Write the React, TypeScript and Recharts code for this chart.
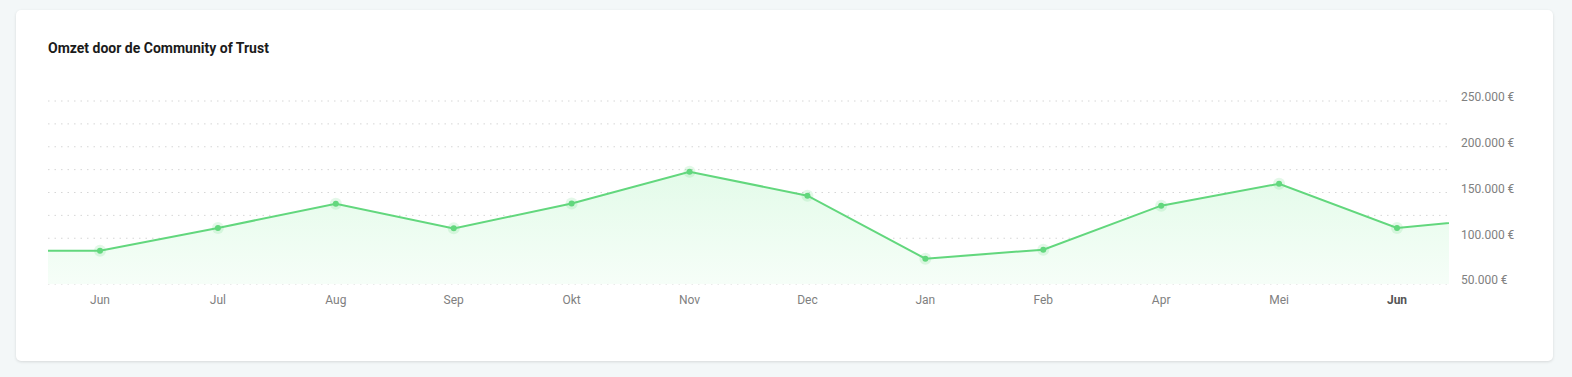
import React from "react";
import { ComposedChart, Area, XAxis, YAxis, CartesianGrid } from "recharts";

const MONTHS = ["Jun", "Jul", "Aug", "Sep", "Okt", "Nov", "Dec", "Jan", "Feb", "Apr", "Mei", "Jun"];
const REVENUE = [86400, 111200, 137800, 110800, 138000, 172700, 146500, 77700, 87500, 135600, 159600, 111200];
// values just outside the visible window (cut off at both edges)
const BEFORE = 86400;
const AFTER = 123600;
const Y_TICKS = [50000, 75000, 100000, 125000, 150000, 175000, 200000, 225000, 250000];

const GREEN = "#62d77d";

const data = [
  { i: -1, value: BEFORE },
  ...REVENUE.map((v, i) => ({ i, value: v })),
  { i: REVENUE.length, value: AFTER },
];

const formatEuro = (v: number) =>
  String(Math.round(v)).replace(/\B(?=(\d{3})+(?!\d))/g, ".") + " €";

function XTick({ x, y, payload }: any) {
  const last = payload.value === MONTHS.length - 1;
  return (
    <text
      x={x}
      y={y}
      dy="0.71em"
      textAnchor="middle"
      fontSize={12}
      fontWeight={last ? 700 : 400}
      fill={last ? "#555" : "#808080"}
    >
      {MONTHS[payload.value]}
    </text>
  );
}

function YTick({ x, y, payload }: any) {
  if (payload.value % 50000 !== 0) return null;
  return (
    <text x={x} y={y - 4} dy="0.355em" textAnchor="start" fontSize={12} fill="#808080">
      {formatEuro(payload.value)}
    </text>
  );
}

function Dot({ cx, cy, payload }: any) {
  if (payload.i < 0 || payload.i >= MONTHS.length) return <g />;
  return (
    <g>
      <circle cx={cx} cy={cy} r={6} fill={GREEN} fillOpacity={0.18} />
      <circle cx={cx} cy={cy} r={3} fill={GREEN} />
    </g>
  );
}

export default function App() {
  return (
    <div
      style={{
        position: "fixed",
        left: 0,
        top: 0,
        width: 1572,
        height: 377,
        background: "#f3f7f8",
        fontFamily: "Roboto, sans-serif",
      }}
    >
      <div
        style={{
          position: "absolute",
          left: 16,
          top: 10,
          width: 1537,
          height: 351,
          background: "#fff",
          borderRadius: 5,
          boxShadow: "0 1px 3px rgba(0,0,0,0.12)",
        }}
      />
      <div
        style={{
          position: "absolute",
          left: 48,
          top: 40,
          fontSize: 14,
          fontWeight: 700,
          color: "#1b1b1b",
        }}
      >
        Omzet door de Community of Trust
      </div>
      <div style={{ position: "absolute", left: 0, top: 0 }}>
        <ComposedChart
          width={1572}
          height={377}
          data={data}
          margin={{ top: 101, right: 63, bottom: 63, left: 48 }}
        >
          <defs>
            <linearGradient id="fillGreen" x1="0" y1="0" x2="0" y2="1">
              <stop offset="0%" stopColor="#e3fbe9" />
              <stop offset="100%" stopColor="#f6fef8" />
            </linearGradient>
          </defs>
          <CartesianGrid vertical={false} stroke="#d6d6d6" strokeDasharray="1.5 5" />
          <XAxis
            dataKey="i"
            type="number"
            domain={[-0.441, 11.441]}
            allowDataOverflow
            ticks={MONTHS.map((_, i) => i)}
            interval={0}
            axisLine={false}
            tickLine={false}
            tickMargin={5}
            height={30}
            tick={<XTick />}
          />
          <YAxis
            orientation="right"
            type="number"
            domain={[50000, 250000]}
            allowDataOverflow
            ticks={Y_TICKS}
            interval={0}
            axisLine={false}
            tickLine={false}
            tickMargin={6}
            width={60}
            tick={<YTick />}
          />
          <Area
            type="linear"
            dataKey="value"
            stroke={GREEN}
            strokeWidth={2}
            fill="url(#fillGreen)"
            fillOpacity={1}
            dot={<Dot />}
            activeDot={false}
            isAnimationActive={false}
          />
        </ComposedChart>
      </div>
    </div>
  );
}
